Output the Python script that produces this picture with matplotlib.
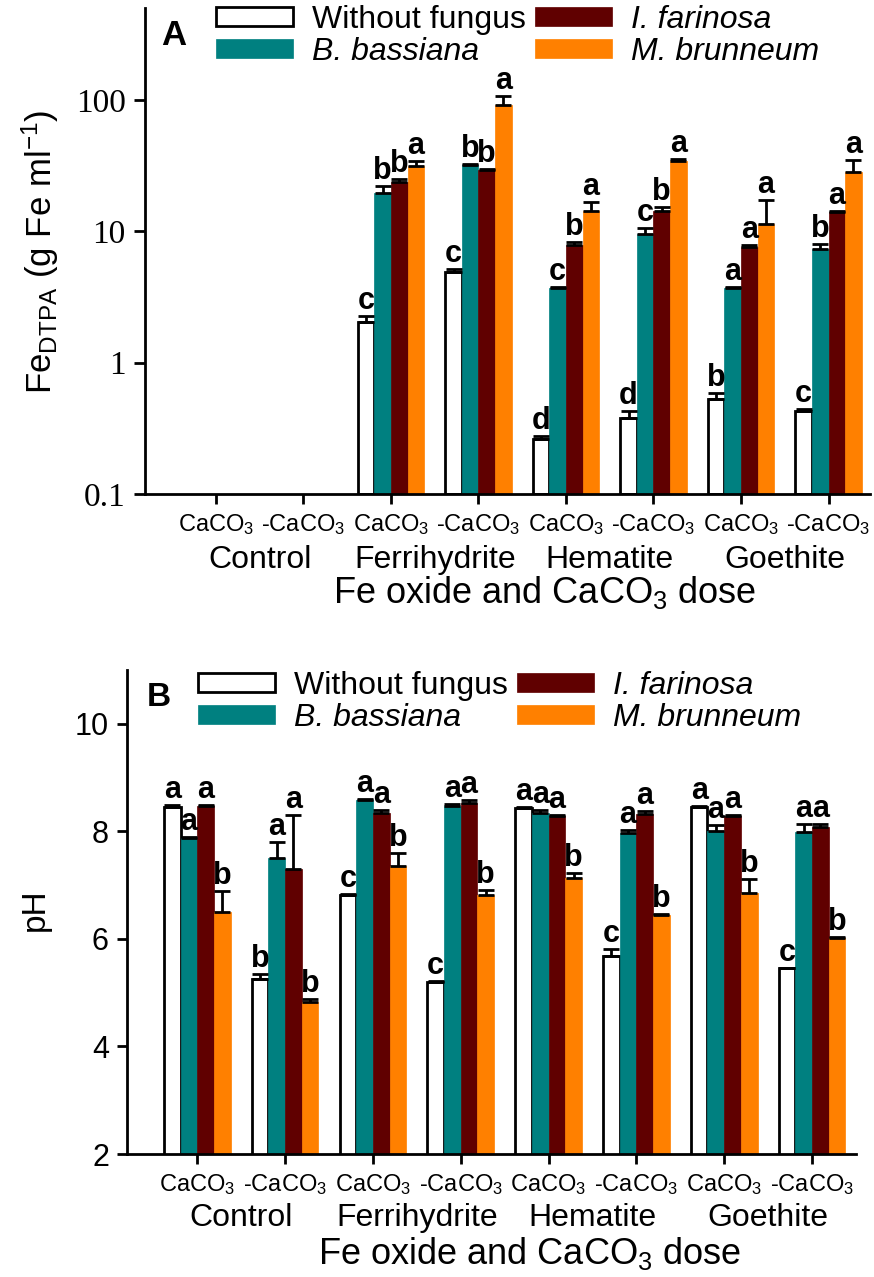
import numpy as np
import matplotlib.pyplot as plt
from matplotlib.ticker import FixedLocator, FixedFormatter, NullLocator

plt.rcParams['font.family'] = ['Liberation Sans', 'DejaVu Sans']
plt.rcParams['mathtext.fontset'] = 'custom'
plt.rcParams['mathtext.rm'] = 'Liberation Sans'
plt.rcParams['mathtext.it'] = 'Liberation Sans:italic'
plt.rcParams['mathtext.bf'] = 'Liberation Sans:bold'
plt.rcParams['axes.linewidth'] = 2

####### DATA #######
series = ['Without fungus', 'B. bassiana', 'I. farinosa', 'M. brunneum']
colors = ['white', '#008080', '#600000', '#FF8000']
groups = ['Control', 'Ferrihydrite', 'Hematite', 'Goethite']
doses = ['CaCO$_3$', '-CaCO$_3$', 'CaCO$_3$', '-CaCO$_3$',
         'CaCO$_3$', '-CaCO$_3$', 'CaCO$_3$', '-CaCO$_3$']
nan = np.nan

# Fe DTPA (panel A), treatments in order of doses
fe_without = [nan, nan, 2.05, 4.9, 0.26, 0.38, 0.53, 0.43]
fe_bass = [nan, nan, 19.7, 32.0, 3.7, 9.6, 3.7, 7.35]
fe_fari = [nan, nan, 23.9, 29.5, 7.9, 14.3, 7.6, 13.9]
fe_brun = [nan, nan, 31.6, 91.0, 14.3, 34.3, 11.4, 28.2]
fe_without_err = [nan, nan, 0.22, 0.3, 0.015, 0.05, 0.06, 0.015]
fe_bass_err = [nan, nan, 2.5, 0.6, 0.05, 0.9, 0.05, 0.6]
fe_fari_err = [nan, nan, 1.0, 0.5, 0.4, 0.9, 0.2, 0.3]
fe_brun_err = [nan, nan, 2.7, 16.0, 2.3, 1.0, 6.0, 6.7]
fe_letters = [['', '', 'c', 'c', 'd', 'd', 'b', 'c'],
              ['', '', 'b', 'b', 'c', 'c', 'a', 'b'],
              ['', '', 'b', 'b', 'b', 'b', 'a', 'a'],
              ['', '', 'a', 'a', 'a', 'a', 'a', 'a']]

# pH (panel B)
ph_without = [8.45, 5.26, 6.81, 5.2, 8.44, 5.69, 8.45, 5.45]
ph_bass = [7.87, 7.51, 8.59, 8.48, 8.34, 7.97, 8.01, 7.99]
ph_fari = [8.47, 7.3, 8.34, 8.53, 8.29, 8.32, 8.29, 8.08]
ph_brun = [6.5, 4.83, 7.36, 6.81, 7.13, 6.44, 6.86, 6.02]
ph_without_err = [0.04, 0.09, 0.02, 0.02, 0.02, 0.12, 0.03, 0.0]
ph_bass_err = [0.03, 0.3, 0.02, 0.02, 0.05, 0.05, 0.1, 0.15]
ph_fari_err = [0.02, 1.0, 0.05, 0.05, 0.02, 0.06, 0.02, 0.06]
ph_brun_err = [0.4, 0.05, 0.24, 0.1, 0.09, 0.02, 0.25, 0.02]
ph_letters = [['a', 'b', 'c', 'c', 'a', 'c', 'a', 'c'],
              ['a', 'a', 'a', 'a', 'a', 'a', 'a', 'a'],
              ['a', 'a', 'a', 'a', 'a', 'a', 'a', 'a'],
              ['b', 'b', 'b', 'b', 'b', 'b', 'b', 'b']]

fe_vals = [fe_without, fe_bass, fe_fari, fe_brun]
fe_errs = [fe_without_err, fe_bass_err, fe_fari_err, fe_brun_err]
ph_vals = [ph_without, ph_bass, ph_fari, ph_brun]
ph_errs = [ph_without_err, ph_bass_err, ph_fari_err, ph_brun_err]

x = np.arange(len(doses))
width = 0.19
offsets = [-1.5, -0.5, 0.5, 1.5]

fig = plt.figure(figsize=(8.74, 12.77), dpi=100)
axA = fig.add_axes([0.166, 0.6132, 0.829, 0.3805])
axB = fig.add_axes([0.1453, 0.0963, 0.834, 0.379])


def draw_panel(ax, vals, errs, letters, bottom, group_y):
    for i in range(4):
        v = np.array(vals[i], dtype=float)
        e = np.array(errs[i], dtype=float)
        xpos = x + offsets[i] * width
        ax.bar(xpos, v - bottom, width, bottom=bottom, color=colors[i],
               edgecolor='black' if i == 0 else colors[i],
               linewidth=2 if i == 0 else 0.5, label=series[i], zorder=2)
        ax.errorbar(xpos, v, yerr=[np.zeros_like(e), e], fmt='none',
                    ecolor='black', elinewidth=2, capsize=6, capthick=2, zorder=3)
        for j in range(len(x)):
            if letters[i][j] and not np.isnan(v[j]):
                ax.annotate(letters[i][j], (xpos[j], v[j] + e[j]), xytext=(0, 0),
                            textcoords='offset points', ha='center', va='bottom',
                            fontsize=22, fontweight='bold', zorder=4)
    ax.spines['top'].set_visible(False)
    ax.spines['right'].set_visible(False)
    ax.set_xticks(x)
    ax.set_xticklabels(doses, fontsize=17)
    ax.tick_params(axis='x', length=7, width=2, pad=6)
    for g, name in enumerate(groups):
        ax.text(2 * g + 0.5, group_y, name, ha='center', va='center',
                fontsize=23, transform=ax.get_xaxis_transform())
    leg = ax.legend(ncol=2, frameon=False, fontsize=23, handlelength=2.4, handleheight=0.55,
                    labelspacing=0.05, columnspacing=0.3, handletextpad=0.6,
                    borderpad=0, borderaxespad=0, loc='upper left')
    for t in leg.get_texts()[1:]:
        t.set_style('italic')
    return leg


# Panel A
axA.set_yscale('log')
legA = draw_panel(axA, fe_vals, fe_errs, fe_letters, 0.1, -0.135)
axA.set_ylim(0.1, 500)
axA.set_xlim(-0.81, 7.47)
axA.yaxis.set_major_locator(FixedLocator([0.1, 1, 10, 100]))
axA.yaxis.set_major_formatter(FixedFormatter(['0.1', '1', '10', '100']))
axA.yaxis.set_minor_locator(NullLocator())
axA.tick_params(axis='y', length=8, width=2, pad=6, labelsize=24)
for t in axA.get_yticklabels():
    t.set_family(['Liberation Serif', 'DejaVu Serif'])
legA.set_bbox_to_anchor((216 / 874, 1 - 5 / 1277), transform=fig.transFigure)
axA.text(0.04, 0.944, 'A', transform=axA.transAxes, fontsize=25, fontweight='bold',
         ha='center', va='center')
fig.text(40 / 874, 1 - 252 / 1277, 'Fe$_{\\mathregular{DTPA}}$ (g Fe ml$^{\\mathregular{-1}}$)',
         rotation=90, ha='center', va='center', fontsize=25)
fig.text(545 / 874, 1 - 592 / 1277, 'Fe oxide and CaCO$_3$ dose', ha='center', va='center', fontsize=26)

# Panel B
legB = draw_panel(axB, ph_vals, ph_errs, ph_letters, 0, -0.132)
axB.set_ylim(2, 11)
axB.set_xlim(-0.8, 7.5)
axB.set_yticks([2, 4, 6, 8, 10])
axB.tick_params(axis='y', length=7, width=2, pad=6, labelsize=22)
legB.set_bbox_to_anchor((198 / 874, 1 - 671 / 1277), transform=fig.transFigure)
axB.text(0.043, 0.944, 'B', transform=axB.transAxes, fontsize=24, fontweight='bold',
         ha='center', va='center')
fig.text(35 / 874, 1 - 910 / 1277, 'pH', rotation=90, ha='center', va='center', fontsize=24)
fig.text(530 / 874, 1 - 1253 / 1277, 'Fe oxide and CaCO$_3$ dose', ha='center', va='center', fontsize=26)

fig.savefig('out.png', dpi=100)
